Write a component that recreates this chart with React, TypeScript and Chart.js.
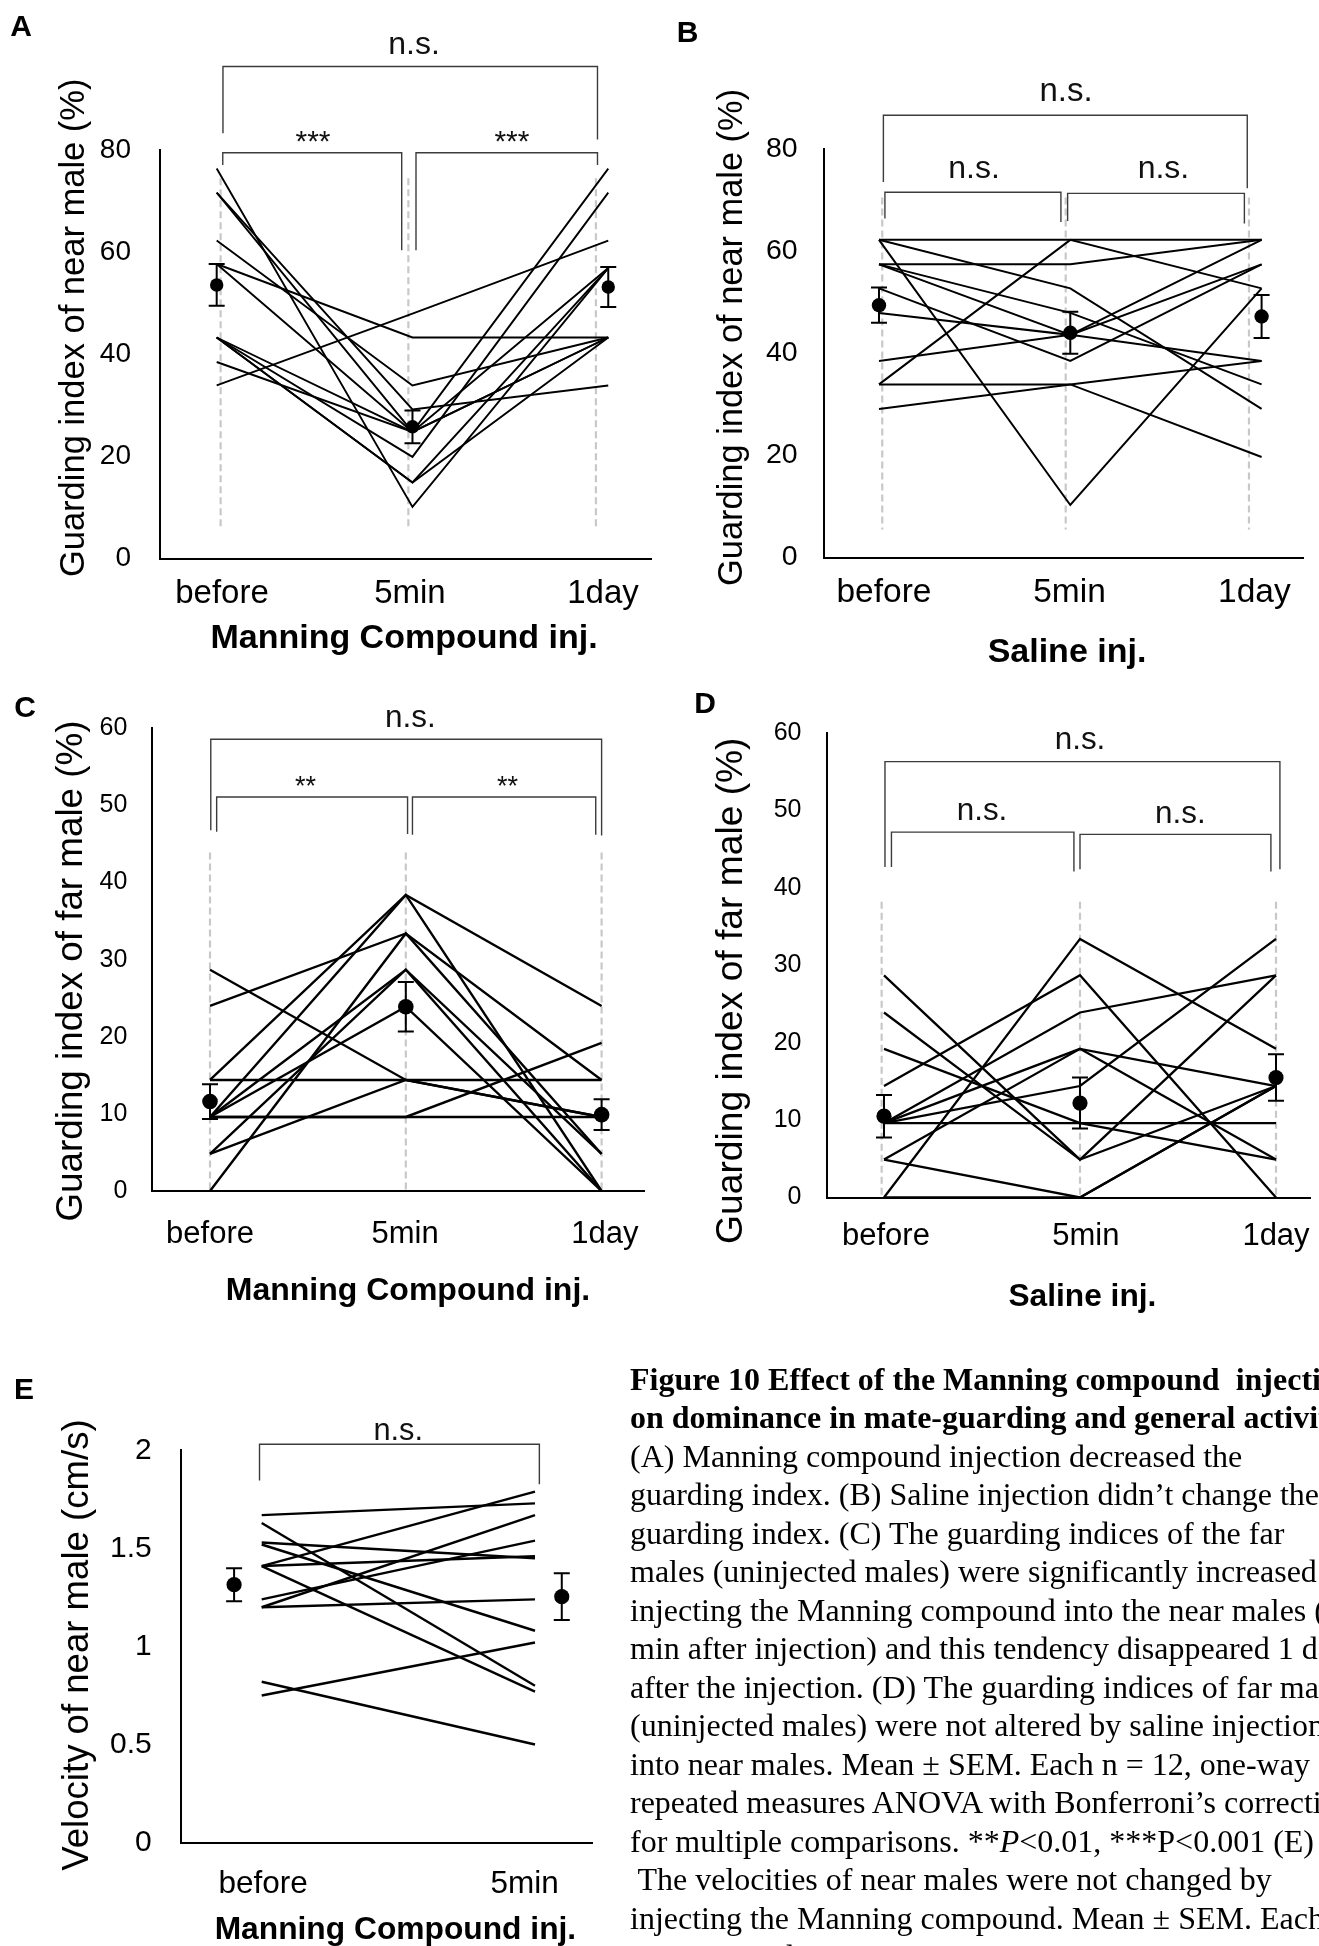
import React, { useEffect, useRef } from "react";
import { Chart, registerables } from "chart.js";

Chart.register(...registerables);

// ---------------- data ----------------
const TIMEPOINTS_3 = ["before", "5min", "1day"];
const TIMEPOINTS_2 = ["before", "5min"];

// (A) Guarding index of near male (%), Manning compound inj. — 12 pairs
const A_BEFORE = [76.4, 71.7, 71.7, 62.3, 57.7, 57.7, 43.3, 43.3, 43.3, 43.3, 38.5, 33.9];
const A_5MIN = [10.1, 24.8, 29.2, 33.9, 43.3, 24.8, 24.8, 19.9, 14.9, 14.9, 24.8, 48.0];
const A_1DAY = [56.9, 76.4, 33.9, 43.3, 43.3, 56.9, 43.3, 71.7, 56.9, 43.3, 43.3, 62.3];
const A_MEAN = [53.6, 25.8, 53.2];
const A_SEM = [4.1, 3.2, 3.9];
const A_SIG = ["n.s.", "***", "***"];

// (B) Guarding index of near male (%), Saline inj.
const B_BEFORE = [62.2, 33.9, 62.2, 62.2, 57.4, 57.4, 57.4, 47.9, 38.5, 52.7, 33.9, 29.1];
const B_5MIN = [62.2, 62.2, 52.7, 10.3, 57.4, 47.9, 43.6, 43.6, 43.6, 38.5, 33.9, 33.9];
const B_1DAY = [62.2, 52.7, 29.1, 52.7, 62.2, 33.9, 62.2, 57.4, 38.5, 57.4, 38.5, 19.7];
const B_MEAN = [49.4, 44.0, 47.2];
const B_SEM = [3.45, 4.1, 4.2];
const B_SIG = ["n.s.", "n.s.", "n.s."];

// (C) Guarding index of far male (%), Manning compound inj.
const C_BEFORE = [28.7, 24.0, 14.4, 14.4, 9.6, 9.6, 9.6, 9.6, 9.6, 4.8, 4.8, 0];
const C_5MIN = [14.4, 33.4, 14.4, 38.4, 9.6, 9.6, 38.4, 28.7, 23.9, 14.4, 28.7, 33.4];
const C_1DAY = [9.6, 14.4, 14.4, 24.0, 9.6, 19.2, 0, 4.8, 0, 9.6, 0, 4.8];
const C_MEAN = [11.6, 23.9, 9.9];
const C_SEM = [2.25, 3.2, 2.0];
const C_SIG = ["n.s.", "**", "**"];

// (D) Guarding index of far male (%), Saline inj.
const D_BEFORE = [28.7, 23.9, 19.2, 14.4, 9.6, 9.6, 9.6, 9.6, 4.9, 0, 0, 4.9];
const D_5MIN = [4.9, 4.9, 9.6, 28.7, 9.6, 23.9, 19.2, 14.4, 0, 33.4, 0, 19.2];
const D_1DAY = [28.7, 14.4, 4.9, 0, 9.6, 28.7, 4.9, 33.4, 14.4, 19.2, 14.4, 14.4];
const D_MEAN = [10.5, 12.2, 15.5];
const D_SEM = [2.75, 3.3, 3.0];
const D_SIG = ["n.s.", "n.s.", "n.s."];

// (E) Velocity of near male (cm/s), Manning compound inj.
const E_BEFORE = [1.67, 1.63, 1.53, 1.52, 1.41, 1.41, 1.41, 1.24, 1.2, 1.2, 0.82, 0.75];
const E_5MIN = [1.73, 0.8, 1.45, 1.08, 1.79, 1.46, 0.77, 1.54, 1.67, 1.24, 0.5, 1.02];
const E_MEAN = [1.315, 1.254];
const E_SEM = [0.084, 0.119];
const E_SIG = ["n.s."];

// ---------------- layout / style ----------------
const FONT = "'Liberation Sans', Arial, Helvetica, sans-serif";
const SERIF = "'Liberation Serif', 'Times New Roman', serif";

const PANELS: any[] = [
  {
    key: "A",
    canvas: { left: 0, top: 0, width: 700, height: 680 },
    area: { left: 160, top: 150.2, right: 651.6, bottom: 558.5 },
    series: [A_BEFORE, A_5MIN, A_1DAY],
    mean: A_MEAN, sem: A_SEM, meanX: [0, 1, 2],
    labels: TIMEPOINTS_3, tickAt: [0.027, 0.987, 1.973],
    xMin: -0.2896, xMax: 2.2214, yMax: 80, yStep: 20,
    yTickSize: 28, yTickPad: 29, xTickSize: 33, xTickPad: 16,
    lineWidth: 1.9, markerR: 6.7,
    guides: [0.02, 0.979, 1.937], guideTop: 74.5, guideBottom: 5.8,
    brackets: [
      { x1: 0.032, x2: 1.945, y: 96.4, y1: 83.3, y2: 82.1 },
      { x1: 0.031, x2: 0.945, y: 79.5, y1: 77.1, y2: 60.4 },
      { x1: 1.018, x2: 1.945, y: 79.5, y1: 60.4, y2: 77.1 },
    ],
    sig: A_SIG,
    sigPos: [
      { x: 1.008, y: 98.8, size: 32 },
      { x: 0.492, y: 79.8, size: 30 },
      { x: 1.508, y: 79.8, size: 30 },
    ],
    yTitle: { text: "Guarding index of near male (%)", x: 74, y: 327.8, size: 34.5 },
    xTitle: { text: "Manning Compound inj.", x: 404, y: 639, size: 34 },
  },
  {
    key: "B",
    canvas: { left: 660, top: 0, width: 700, height: 680 },
    area: { left: 823.7, top: 148.9, right: 1303, bottom: 557.6 },
    series: [B_BEFORE, B_5MIN, B_1DAY],
    mean: B_MEAN, sem: B_SEM, meanX: [0, 1, 2],
    labels: TIMEPOINTS_3, tickAt: [0.026, 0.996, 1.962],
    xMin: -0.289, xMax: 2.2164, yMax: 80, yStep: 20,
    yTickSize: 28.5, yTickPad: 26, xTickSize: 33.5, xTickPad: 14.6,
    lineWidth: 2, markerR: 7.2,
    guides: [0.017, 0.976, 1.934], guideTop: 70.5, guideBottom: 5.5,
    brackets: [
      { x1: 0.023, x2: 1.925, y: 86.6, y1: 73.5, y2: 72.3 },
      { x1: 0.031, x2: 0.951, y: 71.5, y1: 66.4, y2: 65.7 },
      { x1: 0.986, x2: 1.91, y: 71.3, y1: 65.9, y2: 65.4 },
    ],
    sig: B_SIG,
    sigPos: [
      { x: 0.978, y: 89.3, size: 33 },
      { x: 0.497, y: 74.4, size: 32 },
      { x: 1.487, y: 74.4, size: 32 },
    ],
    yTitle: { text: "Guarding index of near male (%)", x: 733, y: 337.4, size: 34.4 },
    xTitle: { text: "Saline inj.", x: 1067, y: 653, size: 34 },
  },
  {
    key: "C",
    canvas: { left: 0, top: 660, width: 700, height: 660 },
    area: { left: 152.3, top: 728.4, right: 644, bottom: 1191 },
    series: [C_BEFORE, C_5MIN, C_1DAY],
    mean: C_MEAN, sem: C_SEM, meanX: [0, 1, 2],
    labels: TIMEPOINTS_3, tickAt: [0, 0.996, 2.017],
    xMin: -0.2947, xMax: 2.2165, yMax: 60, yStep: 10,
    yTickSize: 25, yTickPad: 25, xTickSize: 31, xTickPad: 24.4,
    lineWidth: 2.4, markerR: 7.8,
    guides: [0, 1, 2], guideTop: 43.9, guideBottom: 0,
    brackets: [
      { x1: 0.004, x2: 2.0, y: 58.6, y1: 46.8, y2: 46.1 },
      { x1: 0.034, x2: 1.009, y: 51.1, y1: 46.6, y2: 46.3 },
      { x1: 1.034, x2: 1.97, y: 51.1, y1: 46.2, y2: 46.2 },
    ],
    sig: C_SIG,
    sigPos: [
      { x: 1.023, y: 60.2, size: 31.5 },
      { x: 0.488, y: 51.3, size: 27 },
      { x: 1.52, y: 51.3, size: 27 },
    ],
    yTitle: { text: "Guarding index of far male (%)", x: 72, y: 971, size: 36.8 },
    xTitle: { text: "Manning Compound inj.", x: 408, y: 1291, size: 32 },
  },
  {
    key: "D",
    canvas: { left: 660, top: 660, width: 700, height: 660 },
    area: { left: 827, top: 733, right: 1310.5, bottom: 1197.5 },
    series: [D_BEFORE, D_5MIN, D_1DAY],
    mean: D_MEAN, sem: D_SEM, meanX: [0, 1, 2],
    labels: TIMEPOINTS_3, tickAt: [0.01, 1.03, 2.0],
    xMin: -0.2908, xMax: 2.176, yMax: 60, yStep: 10,
    yTickSize: 25, yTickPad: 25.5, xTickSize: 31, xTickPad: 20,
    lineWidth: 2.3, markerR: 7.6,
    guides: [-0.012, 1.0, 2.0], guideTop: 38.2, guideBottom: 0,
    brackets: [
      { x1: 0.005, x2: 2.02, y: 56.3, y1: 42.7, y2: 42.4 },
      { x1: 0.038, x2: 0.969, y: 47.2, y1: 42.7, y2: 42.1 },
      { x1: 1.0, x2: 1.974, y: 46.9, y1: 42.4, y2: 42.1 },
    ],
    sig: D_SIG,
    sigPos: [
      { x: 1.0, y: 57.9, size: 31.4 },
      { x: 0.5, y: 48.8, size: 31.4 },
      { x: 1.512, y: 48.4, size: 31.4 },
    ],
    yTitle: { text: "Guarding index of far male (%)", x: 732, y: 990.7, size: 37.2 },
    xTitle: { text: "Saline inj.", x: 1082.4, y: 1297.5, size: 31.7 },
  },
  {
    key: "E",
    canvas: { left: 0, top: 1300, width: 640, height: 646 },
    area: { left: 180.8, top: 1450.4, right: 592, bottom: 1842.5 },
    series: [E_BEFORE, E_5MIN],
    mean: E_MEAN, sem: E_SEM, meanX: [-0.101, 1.098],
    labels: TIMEPOINTS_2, tickAt: [0.005, 0.962],
    xMin: -0.296, xMax: 1.2086, yMax: 2, yStep: 0.5,
    yTickSize: 30, yTickPad: 29, xTickSize: 31.5, xTickPad: 22.7,
    lineWidth: 2.4, markerR: 7.6,
    guides: [], guideTop: 0, guideBottom: 0,
    brackets: [{ x1: -0.008, x2: 1.016, y: 2.031, y1: 1.847, y2: 1.827 }],
    sig: E_SIG,
    sigPos: [{ x: 0.4995, y: 2.052, size: 30.8 }],
    yTitle: { text: "Velocity of near male (cm/s)", x: 77.5, y: 1645, size: 36.6 },
    xTitle: { text: "Manning Compound inj.", x: 395.4, y: 1930, size: 31.75 },
  },
];

const LETTERS = [
  { t: "A", x: 21, y: 25.5 },
  { t: "B", x: 687.5, y: 31.7 },
  { t: "C", x: 25, y: 707 },
  { t: "D", x: 705, y: 703 },
  { t: "E", x: 24, y: 1389 },
];

// ---------------- plugin for guides, error bars, brackets, titles ----------------
function extrasPlugin(p: any) {
  return {
    id: "extras" + p.key,
    beforeDatasetsDraw(chart: any) {
      const { ctx } = chart;
      const x = chart.scales.x;
      const y = chart.scales.y;
      ctx.save();
      ctx.strokeStyle = "#c8c8c8";
      ctx.lineWidth = 2.2;
      ctx.setLineDash([7, 4]);
      for (const g of p.guides) {
        const px = x.getPixelForValue(g);
        ctx.beginPath();
        ctx.moveTo(px, y.getPixelForValue(p.guideTop));
        ctx.lineTo(px, y.getPixelForValue(p.guideBottom));
        ctx.stroke();
      }
      ctx.restore();
    },
    afterDatasetsDraw(chart: any) {
      const { ctx } = chart;
      const x = chart.scales.x;
      const y = chart.scales.y;
      ctx.save();
      ctx.strokeStyle = "#000";
      ctx.lineWidth = 2;
      p.mean.forEach((m: number, i: number) => {
        const px = x.getPixelForValue(p.meanX[i]);
        const top = y.getPixelForValue(m + p.sem[i]);
        const bot = y.getPixelForValue(m - p.sem[i]);
        ctx.beginPath();
        ctx.moveTo(px, top);
        ctx.lineTo(px, bot);
        ctx.moveTo(px - 8, top);
        ctx.lineTo(px + 8, top);
        ctx.moveTo(px - 8, bot);
        ctx.lineTo(px + 8, bot);
        ctx.stroke();
      });
      ctx.restore();
    },
    afterDraw(chart: any) {
      const { ctx } = chart;
      const x = chart.scales.x;
      const y = chart.scales.y;
      ctx.save();
      // significance brackets
      ctx.strokeStyle = "#3c3c3c";
      ctx.lineWidth = 1.4;
      for (const b of p.brackets) {
        const x1 = x.getPixelForValue(b.x1);
        const x2 = x.getPixelForValue(b.x2);
        const yy = y.getPixelForValue(b.y);
        ctx.beginPath();
        ctx.moveTo(x1, y.getPixelForValue(b.y1));
        ctx.lineTo(x1, yy);
        ctx.lineTo(x2, yy);
        ctx.lineTo(x2, y.getPixelForValue(b.y2));
        ctx.stroke();
      }
      ctx.fillStyle = "#111";
      ctx.textAlign = "center";
      ctx.textBaseline = "alphabetic";
      p.sig.forEach((s: string, i: number) => {
        const sp = p.sigPos[i];
        ctx.font = `${sp.size}px ${FONT}`;
        ctx.fillText(s, x.getPixelForValue(sp.x), y.getPixelForValue(sp.y));
      });
      // axis titles
      const ox = p.canvas.left;
      const oy = p.canvas.top;
      ctx.fillStyle = "#000";
      ctx.textBaseline = "middle";
      ctx.font = `${p.yTitle.size}px ${FONT}`;
      ctx.save();
      ctx.translate(p.yTitle.x - ox, p.yTitle.y - oy);
      ctx.rotate(-Math.PI / 2);
      ctx.fillText(p.yTitle.text, 0, 0);
      ctx.restore();
      ctx.font = `bold ${p.xTitle.size}px ${FONT}`;
      ctx.fillText(p.xTitle.text, p.xTitle.x - ox, p.xTitle.y - oy);
      ctx.restore();
    },
  };
}

function buildConfig(p: any) {
  const n = p.series[0].length;
  const datasets: any[] = [];
  for (let i = 0; i < n; i++) {
    datasets.push({
      type: "line",
      data: p.series.map((s: number[], t: number) => ({ x: t, y: s[i] })),
      borderColor: "#000",
      borderWidth: p.lineWidth,
      pointRadius: 0,
      fill: false,
      tension: 0,
    });
  }
  datasets.push({
    type: "scatter",
    data: p.mean.map((m: number, i: number) => ({ x: p.meanX[i], y: m })),
    pointRadius: p.markerR,
    pointBackgroundColor: "#000",
    pointBorderColor: "#000",
    pointBorderWidth: 0,
    showLine: false,
  });
  const c = p.canvas;
  const a = p.area;
  return {
    type: "line",
    data: { datasets },
    options: {
      animation: false,
      responsive: false,
      devicePixelRatio: 1,
      events: [],
      layout: {
        padding: {
          left: 0,
          top: a.top - c.top,
          right: c.left + c.width - a.right,
          bottom: 0,
        },
      },
      plugins: {
        legend: { display: false },
        tooltip: { enabled: false },
        title: { display: false },
      },
      scales: {
        x: {
          type: "linear",
          min: p.xMin,
          max: p.xMax,
          afterBuildTicks: (s: any) => {
            s.ticks = p.tickAt.map((v: number) => ({ value: v }));
          },
          afterFit: (s: any) => {
            s.height = c.top + c.height - a.bottom;
          },
          grid: { display: false, drawTicks: false },
          border: { display: true, color: "#000", width: 2 },
          ticks: {
            autoSkip: false,
            maxRotation: 0,
            minRotation: 0,
            padding: p.xTickPad,
            color: "#000",
            font: { family: FONT, size: p.xTickSize },
            callback: (_v: any, i: number) => p.labels[i],
          },
        },
        y: {
          type: "linear",
          min: 0,
          max: p.yMax,
          afterFit: (s: any) => {
            s.width = a.left - c.left;
          },
          grid: { display: false, drawTicks: false },
          border: { display: true, color: "#000", width: 2 },
          ticks: {
            stepSize: p.yStep,
            padding: p.yTickPad,
            color: "#000",
            font: { family: FONT, size: p.yTickSize },
            callback: (v: any) => String(Math.round(Number(v) * 100) / 100),
          },
        },
      },
    },
    plugins: [extrasPlugin(p)],
  };
}

function PanelChart({ spec }: { spec: any }) {
  const ref = useRef<HTMLCanvasElement>(null);
  useEffect(() => {
    if (!ref.current) return;
    const chart = new Chart(ref.current, buildConfig(spec) as any);
    return () => chart.destroy();
  }, [spec]);
  const c = spec.canvas;
  return (
    <canvas
      ref={ref}
      width={c.width}
      height={c.height}
      style={{ position: "absolute", left: c.left, top: c.top, width: c.width, height: c.height }}
    />
  );
}

const CAPTION_LINES: { content: React.ReactNode; bold?: boolean }[] = [
  { content: "Figure 10 Effect of the Manning compound  injection", bold: true },
  { content: "on dominance in mate-guarding and general activity", bold: true },
  { content: "(A) Manning compound injection decreased the" },
  { content: "guarding index. (B) Saline injection didn\u2019t change the" },
  { content: "guarding index. (C) The guarding indices of the far" },
  { content: "males (uninjected males) were significantly increased by" },
  { content: "injecting the Manning compound into the near males (5" },
  { content: "min after injection) and this tendency disappeared 1 day" },
  { content: "after the injection. (D) The guarding indices of far males" },
  { content: "(uninjected males) were not altered by saline injections" },
  { content: "into near males. Mean \u00b1 SEM. Each n = 12, one-way" },
  { content: "repeated measures ANOVA with Bonferroni\u2019s correction" },
  {
    content: (
      <>
        for multiple comparisons. **<i>P</i>&lt;0.01, ***P&lt;0.001 (E)
      </>
    ),
  },
  { content: " The velocities of near males were not changed by" },
  { content: "injecting the Manning compound. Mean \u00b1 SEM. Each" },
  { content: "n=12. Paired t-test." },
];

export default function App() {
  return (
    <div
      style={{
        position: "absolute",
        left: 0,
        top: 0,
        width: 1319,
        height: 1946,
        overflow: "hidden",
        background: "#fff",
      }}
    >
      {PANELS.map((p) => (
        <PanelChart key={p.key} spec={p} />
      ))}
      {LETTERS.map((l) => (
        <div
          key={l.t}
          style={{
            position: "absolute",
            left: l.x,
            top: l.y,
            transform: "translate(-50%, -50%)",
            font: `bold 30px ${FONT}`,
            lineHeight: "30px",
            color: "#000",
          }}
        >
          {l.t}
        </div>
      ))}
      {CAPTION_LINES.map((ln, i) => (
        <div
          key={i}
          style={{
            position: "absolute",
            left: 630,
            top: 1359.5 + i * 38.5,
            height: 38.5,
            lineHeight: "38.5px",
            fontFamily: SERIF,
            fontSize: 32,
            fontWeight: ln.bold ? "bold" : "normal",
            whiteSpace: "pre",
            color: "#000",
          }}
        >
          {ln.content}
        </div>
      ))}
    </div>
  );
}
